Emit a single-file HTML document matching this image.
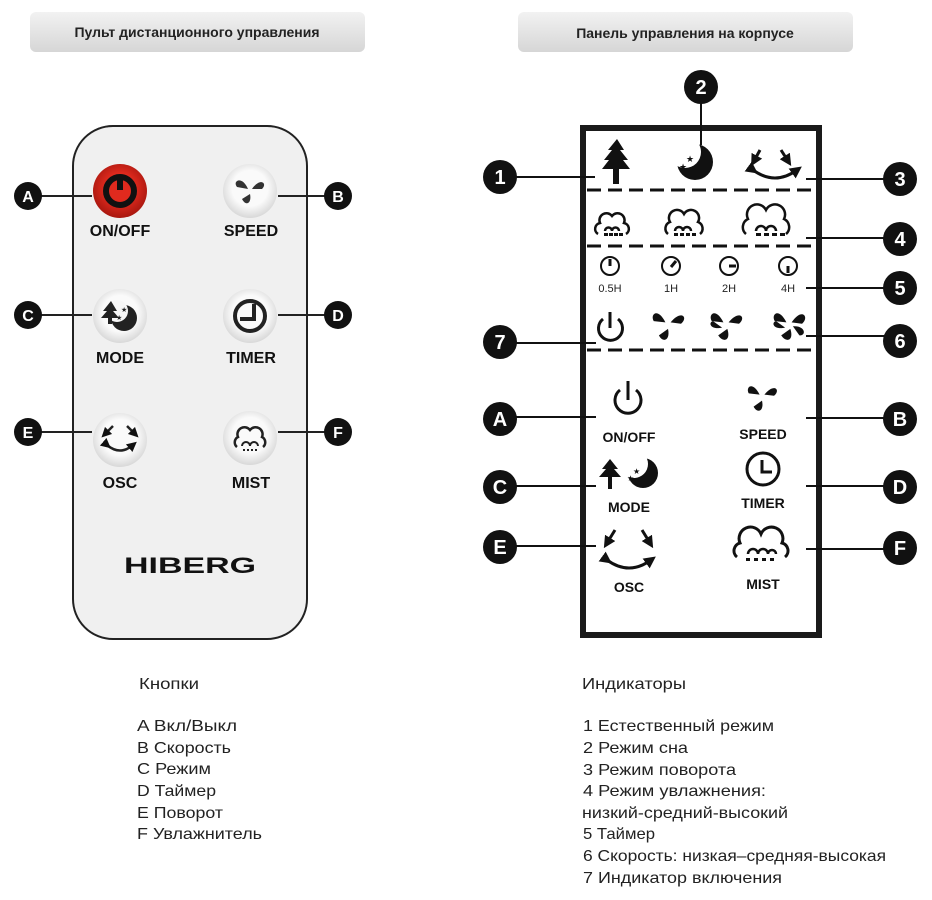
<!DOCTYPE html>
<html><head><meta charset="utf-8"><style>
html,body{margin:0;padding:0;background:#fff;}
svg{display:block;}
text{font-family:"Liberation Sans",sans-serif;}
</style></head><body>
<svg width="932" height="900" viewBox="0 0 932 900" xmlns="http://www.w3.org/2000/svg">
<defs>
<radialGradient id="btn" cx="50%" cy="45%" r="55%"><stop offset="0.6" stop-color="#fafafa"/><stop offset="1" stop-color="#d8d8d8"/></radialGradient>
<radialGradient id="red" cx="50%" cy="45%" r="55%"><stop offset="0.5" stop-color="#e02a1e"/><stop offset="1" stop-color="#a8170f"/></radialGradient>
<linearGradient id="hdr" x1="0" y1="0" x2="0" y2="1"><stop offset="0" stop-color="#f2f2f2"/><stop offset="1" stop-color="#d6d6d6"/></linearGradient>
<marker id="ah" viewBox="0 0 10 10" refX="5" refY="5" markerWidth="4" markerHeight="4" orient="auto"><path d="M0,0 L10,5 L0,10 z" fill="#111"/></marker>
</defs>
<!-- headers -->
<rect x="30" y="12" width="335" height="40" rx="6" fill="url(#hdr)"/>
<text x="197" y="37" font-size="14" font-weight="bold" text-anchor="middle" fill="#222">Пульт дистанционного управления</text>
<rect x="518" y="12" width="335" height="40" rx="6" fill="url(#hdr)"/>
<text x="685" y="38" font-size="14" font-weight="bold" text-anchor="middle" fill="#222">Панель управления на корпусе</text>

<!-- remote -->
<rect x="73" y="126" width="234" height="513" rx="40" fill="#f0f0f0" stroke="#222" stroke-width="2"/>
<g stroke="#222" stroke-width="2">
<line x1="28" y1="196" x2="92" y2="196"/><line x1="278" y1="196" x2="338" y2="196"/>
<line x1="28" y1="315" x2="92" y2="315"/><line x1="278" y1="315" x2="338" y2="315"/>
<line x1="28" y1="432" x2="92" y2="432"/><line x1="278" y1="432" x2="338" y2="432"/>
</g>
<circle cx="120" cy="191" r="27" fill="url(#red)"/>
<circle cx="120" cy="191" r="14" fill="none" stroke="#111" stroke-width="6"/>
<line x1="120" y1="176" x2="120" y2="190" stroke="#111" stroke-width="6"/>
<circle cx="250" cy="191" r="27" fill="url(#btn)"/>
<g fill="#333" transform="translate(250,191)">
<path d="M-2,-2 C-8,-16 -18,-10 -13,-4 Z"/><path d="M2,-2 C10,-14 18,-8 12,-2 Z"/><path d="M0,3 C2,12 -4,16 -8,8 Z"/></g>
<circle cx="120" cy="316" r="27" fill="url(#btn)"/>
<circle cx="124" cy="318" r="13" fill="#222"/><circle cx="117" cy="311" r="11" fill="#f6f6f6"/>
<path d="M111,301 l-8,10 h4 l-6,7 h7 v6 h4 v-6 h7 l-6,-7 h4 z" fill="#222"/>
<text x="121" y="312" font-size="7" fill="#222">★</text><text x="116" y="320" font-size="7" fill="#222">★</text>
<circle cx="250" cy="316" r="27" fill="url(#btn)"/>
<circle cx="250" cy="316" r="15" fill="none" stroke="#222" stroke-width="4"/>
<path d="M254,304 v15 h-14" fill="none" stroke="#222" stroke-width="4"/>
<circle cx="120" cy="440" r="27" fill="url(#btn)"/>
<g fill="none" stroke="#222" stroke-width="2.5"><path d="M107,445 q13,11 26,0" marker-start="url(#ah)" marker-end="url(#ah)"/><path d="M113,426 l-8,8" marker-end="url(#ah)"/><path d="M127,426 l8,8" marker-end="url(#ah)"/></g>
<circle cx="250" cy="438" r="27" fill="url(#btn)"/>
<path d="M237,447 a6,6 0 0 1 1,-10 a7,7 0 0 1 12,-7 a7,7 0 0 1 12,7 a6,6 0 0 1 1,10" fill="none" stroke="#222" stroke-width="2.5"/>
<path d="M242,446 a4,4 0 0 1 8,0 a4,4 0 0 1 8,0" fill="none" stroke="#222" stroke-width="2"/>
<g fill="#222"><rect x="243" y="449" width="2" height="2"/><rect x="247" y="449" width="2" height="2"/><rect x="251" y="449" width="2" height="2"/><rect x="255" y="449" width="2" height="2"/></g>
<g font-size="16" font-weight="bold" text-anchor="middle" fill="#111">
<text x="120" y="236">ON/OFF</text><text x="251" y="236">SPEED</text>
<text x="120" y="363">MODE</text><text x="251" y="363">TIMER</text>
<text x="120" y="488">OSC</text><text x="251" y="488">MIST</text>
</g>
<text x="190" y="573" font-size="22" font-weight="bold" text-anchor="middle" fill="#111" textLength="132" lengthAdjust="spacingAndGlyphs">HIBERG</text>
<g fill="#111"><circle cx="28" cy="196" r="14"/><circle cx="338" cy="196" r="14"/><circle cx="28" cy="315" r="14"/><circle cx="338" cy="315" r="14"/><circle cx="28" cy="432" r="14"/><circle cx="338" cy="432" r="14"/></g>
<g font-size="16" font-weight="bold" text-anchor="middle" fill="#fff">
<text x="28" y="202">A</text><text x="338" y="202">B</text><text x="28" y="321">C</text><text x="338" y="321">D</text><text x="28" y="438">E</text><text x="338" y="438">F</text></g>

<!-- panel -->
<rect x="583" y="128" width="236" height="507" fill="#fff" stroke="#1a1a1a" stroke-width="6"/>
<g stroke="#111" stroke-width="3" stroke-dasharray="14,7">
<line x1="587" y1="190" x2="815" y2="190"/><line x1="587" y1="246" x2="815" y2="246"/><line x1="587" y1="350" x2="815" y2="350"/></g>
<g stroke="#111" stroke-width="2">
<line x1="500" y1="177" x2="595" y2="177"/><line x1="701" y1="87" x2="701" y2="145"/><line x1="806" y1="179" x2="900" y2="179"/>
<line x1="806" y1="238" x2="900" y2="238"/><line x1="806" y1="288" x2="900" y2="288"/><line x1="806" y1="336" x2="900" y2="336"/>
<line x1="500" y1="343" x2="596" y2="343"/>
<line x1="500" y1="417" x2="596" y2="417"/><line x1="806" y1="418" x2="900" y2="418"/>
<line x1="500" y1="486" x2="596" y2="486"/><line x1="806" y1="486" x2="900" y2="486"/>
<line x1="500" y1="546" x2="596" y2="546"/><line x1="806" y1="549" x2="900" y2="549"/>
</g>
<!-- row1 icons -->
<path d="M617,139 l-9,11 h4 l-8,10 h5 l-7,9 h11 v15 h6 v-15 h11 l-7,-9 h5 l-8,-10 h4 z" fill="#111"/>
<circle cx="695" cy="162" r="18" fill="#111"/><circle cx="685" cy="152" r="16" fill="#fff"/>
<text x="686" y="162" font-size="9" fill="#111">★</text><text x="679" y="170" font-size="9" fill="#111">★</text>
<g fill="none" stroke="#111" stroke-width="3"><path d="M753,170 q22,16 44,0" marker-start="url(#ah)" marker-end="url(#ah)"/><path d="M760,150 l-6,11" marker-end="url(#ah)"/><path d="M781,150 l7,11" marker-end="url(#ah)"/></g>
<!-- row2 clouds -->
<g fill="none" stroke="#111" stroke-width="2.5">
<path d="M598,234 a6,6 0 0 1 2,-11 a7,7 0 0 1 12,-7 a7,7 0 0 1 12,7 a6,6 0 0 1 2,11"/>
<path d="M668,234 a7,7 0 0 1 2,-12 a8,8 0 0 1 14,-8 a8,8 0 0 1 14,8 a7,7 0 0 1 2,12"/>
<path d="M746,234 a9,9 0 0 1 2,-15 a10,10 0 0 1 18,-9 a10,10 0 0 1 18,9 a9,9 0 0 1 2,15"/>
<path d="M605,231 a3.5,3.5 0 0 1 7,0 a3.5,3.5 0 0 1 7,0"/><path d="M675,231 a4,4 0 0 1 8,0 a4,4 0 0 1 8,0"/><path d="M756,231 a5,5 0 0 1 10,0 a5,5 0 0 1 10,0"/>
</g>
<g fill="#111"><rect x="604" y="233" width="4" height="3"/><rect x="609" y="233" width="4" height="3"/><rect x="614" y="233" width="4" height="3"/><rect x="619" y="233" width="4" height="3"/>
<rect x="674" y="233" width="4" height="3"/><rect x="680" y="233" width="4" height="3"/><rect x="686" y="233" width="4" height="3"/><rect x="692" y="233" width="4" height="3"/>
<rect x="756" y="233" width="5" height="3"/><rect x="764" y="233" width="5" height="3"/><rect x="772" y="233" width="5" height="3"/><rect x="780" y="233" width="5" height="3"/></g>
<!-- timers -->
<g fill="none" stroke="#111" stroke-width="2"><circle cx="610" cy="266" r="9"/><circle cx="671" cy="266" r="9"/><circle cx="729" cy="266" r="9"/><circle cx="788" cy="266" r="9"/></g>
<g stroke="#111" stroke-width="3"><line x1="610" y1="259" x2="610" y2="266"/><line x1="671" y1="267" x2="676" y2="261"/><line x1="729" y1="266" x2="736" y2="266"/><line x1="788" y1="266" x2="788" y2="273"/></g>
<g font-size="11" fill="#222" text-anchor="middle"><text x="610" y="292">0.5H</text><text x="671" y="292">1H</text><text x="729" y="292">2H</text><text x="788" y="292">4H</text></g>
<!-- row4 -->
<path d="M603,319 a12,12 0 1 0 15,0" fill="none" stroke="#111" stroke-width="3"/><line x1="610" y1="312" x2="610" y2="328" stroke="#111" stroke-width="3"/>
<g fill="#111">
<g transform="translate(668,325) scale(1.3)"><path d="M-2,-2 C-8,-14 -14,-8 -11,-3 Z"/><path d="M2,-2 C10,-12 16,-6 10,-1 Z"/><path d="M0,3 C2,12 -4,14 -7,8 Z"/></g>
<g transform="translate(726,325) scale(1.3)"><path d="M-2,-2 C-8,-14 -14,-8 -11,-3 Z"/><path d="M2,-2 C10,-12 16,-6 10,-1 Z"/><path d="M1,3 C4,12 -2,14 -6,8 Z"/><path d="M-3,2 C-12,4 -14,-2 -10,-3 Z"/></g>
<g transform="translate(789,325) scale(1.3)"><path d="M-2,-2 C-8,-14 -14,-8 -11,-3 Z"/><path d="M2,-2 C10,-14 16,-6 10,-1 Z"/><path d="M1,3 C4,12 -2,14 -6,8 Z"/><path d="M-3,2 C-12,4 -14,-2 -10,-3 Z"/><path d="M3,1 C12,0 14,8 8,8 Z"/></g>
</g>
<!-- lower panel icons -->
<path d="M620,390 a13,13 0 1 0 16,0" fill="none" stroke="#111" stroke-width="3"/><line x1="628" y1="381" x2="628" y2="400" stroke="#111" stroke-width="3"/>
<g fill="#111" transform="translate(762,397) scale(1.2)"><path d="M-2,-2 C-8,-14 -14,-8 -11,-3 Z"/><path d="M2,-2 C10,-12 16,-6 10,-1 Z"/><path d="M0,3 C2,12 -4,14 -7,8 Z"/></g>
<path d="M610,459 l-8,10 h4 l-7,8 h9 v12 h4 v-12 h9 l-7,-8 h4 z" fill="#111"/>
<circle cx="643" cy="473" r="15" fill="#111"/><circle cx="634" cy="464" r="14" fill="#fff"/>
<text x="633" y="474" font-size="8" fill="#111">★</text><text x="627" y="481" font-size="8" fill="#111">★</text>
<circle cx="763" cy="469" r="16" fill="none" stroke="#111" stroke-width="3"/><path d="M762,460 v12 h10" fill="none" stroke="#111" stroke-width="3"/>
<g fill="none" stroke="#111" stroke-width="3"><path d="M607,560 q22,16 44,0" marker-start="url(#ah)" marker-end="url(#ah)"/><path d="M615,530 l-8,13" marker-end="url(#ah)"/><path d="M642,530 l8,13" marker-end="url(#ah)"/></g>
<path d="M737,557 a8,8 0 0 1 3,-14 a11,11 0 0 1 21,-9 a11,11 0 0 1 21,9 a8,8 0 0 1 3,14" fill="none" stroke="#111" stroke-width="3"/>
<path d="M748,554 a5,5 0 0 1 10,0 a5,5 0 0 1 10,0 a4,4 0 0 1 8,0" fill="none" stroke="#111" stroke-width="2.5"/>
<g fill="#111"><rect x="746" y="558" width="4" height="3"/><rect x="754" y="558" width="4" height="3"/><rect x="762" y="558" width="4" height="3"/><rect x="770" y="558" width="4" height="3"/></g>
<g font-size="14" font-weight="bold" text-anchor="middle" fill="#111">
<text x="629" y="442">ON/OFF</text><text x="763" y="439">SPEED</text>
<text x="629" y="512">MODE</text><text x="763" y="508">TIMER</text>
<text x="629" y="592">OSC</text><text x="763" y="589">MIST</text></g>
<g fill="#111">
<circle cx="500" cy="177" r="17"/><circle cx="701" cy="87" r="17"/><circle cx="900" cy="179" r="17"/><circle cx="900" cy="239" r="17"/><circle cx="900" cy="288" r="17"/><circle cx="900" cy="341" r="17"/><circle cx="500" cy="342" r="17"/>
<circle cx="500" cy="419" r="17"/><circle cx="900" cy="419" r="17"/><circle cx="500" cy="487" r="17"/><circle cx="900" cy="487" r="17"/><circle cx="500" cy="547" r="17"/><circle cx="900" cy="548" r="17"/></g>
<g font-size="20" font-weight="bold" text-anchor="middle" fill="#fff">
<text x="500" y="184">1</text><text x="701" y="94">2</text><text x="900" y="186">3</text><text x="900" y="246">4</text><text x="900" y="295">5</text><text x="900" y="348">6</text><text x="500" y="349">7</text>
<text x="500" y="426">A</text><text x="900" y="426">B</text><text x="500" y="494">C</text><text x="900" y="494">D</text><text x="500" y="554">E</text><text x="900" y="555">F</text></g>

<!-- legends -->
<g font-size="16" fill="#222">
<text x="139" y="689" textLength="60" lengthAdjust="spacingAndGlyphs">Кнопки</text>
<text x="137" y="731" textLength="100" lengthAdjust="spacingAndGlyphs">A Вкл/Выкл</text>
<text x="137" y="753" textLength="94" lengthAdjust="spacingAndGlyphs">B Скорость</text>
<text x="137" y="774" textLength="74" lengthAdjust="spacingAndGlyphs">C Режим</text>
<text x="137" y="796" textLength="79" lengthAdjust="spacingAndGlyphs">D Таймер</text>
<text x="137" y="818" textLength="86" lengthAdjust="spacingAndGlyphs">E Поворот</text>
<text x="137" y="839" textLength="125" lengthAdjust="spacingAndGlyphs">F Увлажнитель</text>
<text x="582" y="689" textLength="104" lengthAdjust="spacingAndGlyphs">Индикаторы</text>
<text x="583" y="731" textLength="191" lengthAdjust="spacingAndGlyphs">1 Естественный режим</text>
<text x="583" y="753" textLength="105" lengthAdjust="spacingAndGlyphs">2 Режим сна</text>
<text x="583" y="775" textLength="153" lengthAdjust="spacingAndGlyphs">3 Режим поворота</text>
<text x="583" y="796" textLength="183" lengthAdjust="spacingAndGlyphs">4 Режим увлажнения:</text>
<text x="582" y="818" textLength="206" lengthAdjust="spacingAndGlyphs">низкий-средний-высокий</text>
<text x="583" y="839" textLength="72" lengthAdjust="spacingAndGlyphs">5 Таймер</text>
<text x="583" y="861" textLength="303" lengthAdjust="spacingAndGlyphs">6 Скорость: низкая–средняя-высокая</text>
<text x="583" y="883" textLength="199" lengthAdjust="spacingAndGlyphs">7 Индикатор включения</text>
</g>
</svg>
</body></html>
